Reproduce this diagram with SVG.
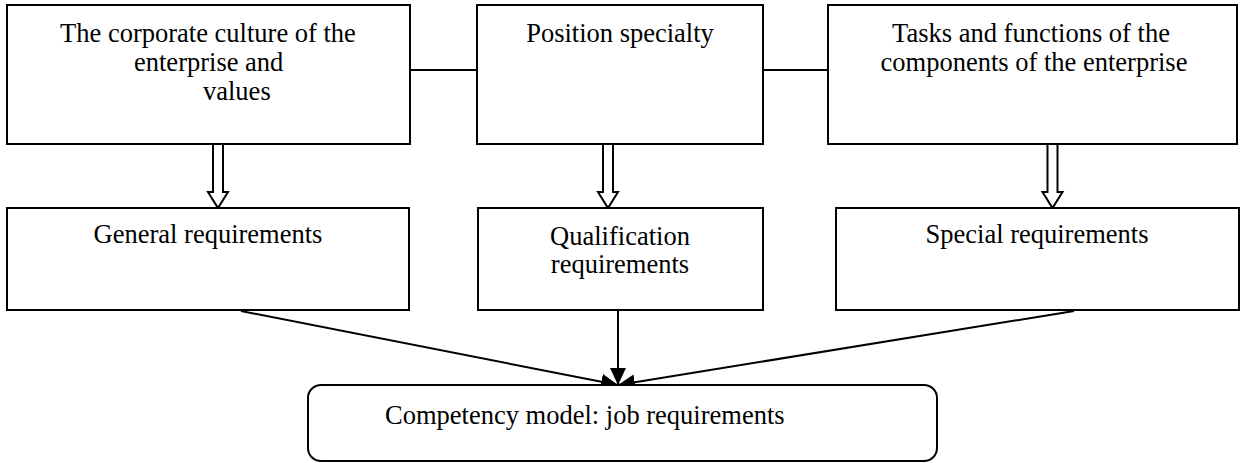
<svg xmlns="http://www.w3.org/2000/svg" width="1243" height="463" viewBox="0 0 1243 463">
<style>
.box{fill:#fff;stroke:#000;stroke-width:2}
.t{font-family:"Liberation Serif","Times New Roman",serif;font-size:26.5px;fill:#000}
.c{text-anchor:middle}
.ln{stroke:#000;stroke-width:2;fill:none}
.hollow{fill:#fff;stroke:#000;stroke-width:2;stroke-linejoin:miter}
</style>
<defs>
<marker id="ah" markerUnits="userSpaceOnUse" markerWidth="18" markerHeight="16" refX="17" refY="8" orient="auto">
<path d="M0,0 L17,8 L0,16 Z" fill="#000"/>
</marker>
</defs>
<rect width="1243" height="463" fill="#fff"/>
<g id="connectors">
<line class="ln" x1="410" y1="70" x2="477" y2="70"/>
<line class="ln" x1="761" y1="70" x2="828" y2="70"/>
<path class="hollow" d="M213,144 L213,192 L208,192 L218,208 L228,192 L223,192 L223,144"/>
<path class="hollow" d="M603,144 L603,192 L598,192 L608,208 L618,192 L613,192 L613,144"/>
<path class="hollow" d="M1047.5,144 L1047.5,192 L1042.5,192 L1052.5,208 L1062.5,192 L1057.5,192 L1057.5,144"/>
<line class="ln" x1="241" y1="311" x2="618" y2="385" marker-end="url(#ah)"/>
<line class="ln" x1="618" y1="311" x2="618" y2="385" marker-end="url(#ah)"/>
<line class="ln" x1="1074" y1="311" x2="618" y2="385" marker-end="url(#ah)"/>
</g>
<g id="n1">
<rect class="box" x="7" y="5" width="403" height="139"/>
<text class="t c" x="208" y="42">The corporate culture of the</text>
<text class="t" x="134" y="71">enterprise and</text>
<text class="t" x="203" y="100">values</text>
</g>
<g id="n2">
<rect class="box" x="477" y="5" width="286" height="139"/>
<text class="t c" x="620" y="42">Position specialty</text>
</g>
<g id="n3">
<rect class="box" x="828" y="5" width="409" height="139"/>
<text class="t c" x="1031" y="42">Tasks and functions of the</text>
<text class="t c" x="1034" y="71">components of the enterprise</text>
</g>
<g id="n4">
<rect class="box" x="7" y="208" width="402" height="102"/>
<text class="t c" x="208" y="243">General requirements</text>
</g>
<g id="n5">
<rect class="box" x="478" y="208" width="285" height="102"/>
<text class="t c" x="620" y="245">Qualification</text>
<text class="t c" x="620" y="273">requirements</text>
</g>
<g id="n6">
<rect class="box" x="836" y="208" width="403" height="102"/>
<text class="t c" x="1037" y="243">Special requirements</text>
</g>
<g id="n7">
<rect class="box" x="308" y="385" width="629" height="76" rx="13" ry="13"/>
<text class="t" x="385" y="424">Competency model: job requirements</text>
</g>
</svg>
